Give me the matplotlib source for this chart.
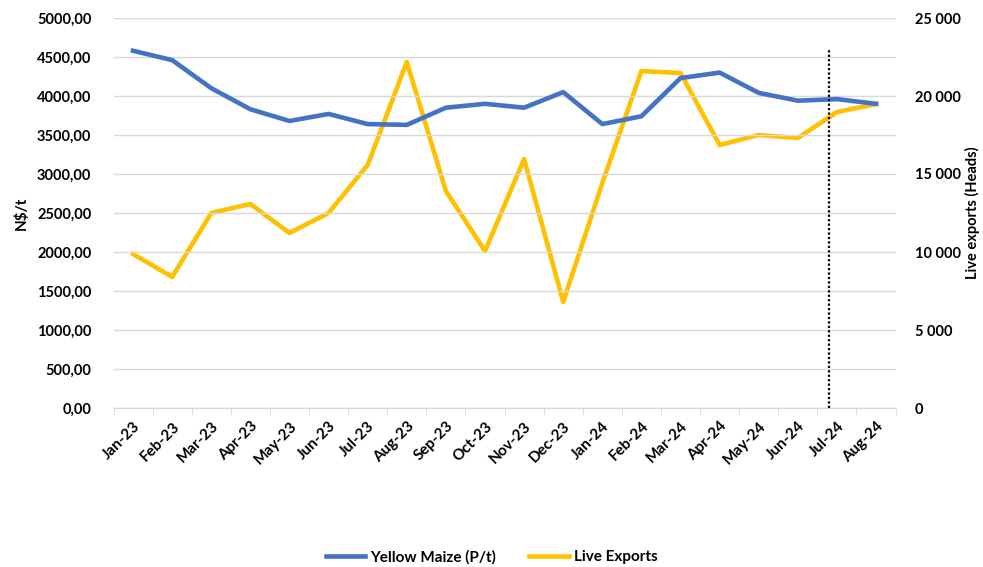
import numpy as np
import matplotlib
matplotlib.use("Agg")
import matplotlib.pyplot as plt
from matplotlib.ticker import FuncFormatter, FixedLocator

# ---- data ----
months = ["Jan-23", "Feb-23", "Mar-23", "Apr-23", "May-23", "Jun-23", "Jul-23",
          "Aug-23", "Sep-23", "Oct-23", "Nov-23", "Dec-23", "Jan-24", "Feb-24",
          "Mar-24", "Apr-24", "May-24", "Jun-24", "Jul-24", "Aug-24"]
maize = [4580, 4460, 4100, 3830, 3680, 3770, 3640, 3630, 3850, 3900,
         3850, 4050, 3640, 3740, 4230, 4300, 4040, 3940, 3960, 3900]
live_exports = [9870, 8400, 12500, 13080, 11220, 12500, 15580, 22180, 13910, 10060,
                15960, 6800, 14420, 21600, 21470, 16860, 17500, 17310, 18970, 19490]
marker_pos = 17.8          # dotted vertical marker, just before Jul-24
marker_top = 4590          # on the left axis

BLUE = "#4472C4"
GOLD = "#FFC000"
FONT = "Lato"

plt.rcParams["font.family"] = [FONT, "DejaVu Sans"]
plt.rcParams["font.weight"] = "bold"

fig = plt.figure(figsize=(9.83, 5.67), dpi=100)
ax = fig.add_axes([113.5 / 983, 1 - 408 / 567, (895.6 - 113.5) / 983, (408 - 18) / 567])
ax2 = ax.twinx()

x = np.arange(len(months))
l1, = ax.plot(x, maize, color=BLUE, lw=3.3, solid_joinstyle="round", label="Yellow Maize (P/t)", zorder=3)
l2, = ax2.plot(x, live_exports, color=GOLD, lw=3.3, solid_joinstyle="round", label="Live Exports", zorder=3)
ax.vlines(marker_pos, 0, marker_top, colors="black", linestyles=(0, (1, 1)), lw=1.6, zorder=4)

ax.set_zorder(ax2.get_zorder() + 1)
ax.patch.set_visible(False)

ax.set_xlim(-0.5, len(months) - 0.5)
ax.set_ylim(0, 5000)
ax2.set_ylim(0, 25000)
ax.set_yticks(np.arange(0, 5001, 500))
ax2.set_yticks(np.arange(0, 25001, 5000))
ax.yaxis.set_major_formatter(FuncFormatter(lambda v, p: f"{v:.2f}".replace(".", ",")))
ax2.yaxis.set_major_formatter(FuncFormatter(lambda v, p: f"{int(v):,}".replace(",", " ")))
ax.grid(axis="y", color="#D9D9D9", lw=1.0, zorder=0)

ax.set_xticks(x)
ax.set_xticklabels(months, rotation=45, ha="right", rotation_mode="anchor")
ax.xaxis.set_minor_locator(FixedLocator(np.arange(-0.5, len(months), 1)))
ax.tick_params(axis="x", which="major", length=0, pad=8, labelsize=11)
ax.tick_params(axis="x", which="minor", length=5, color="#D9D9D9", direction="out")
ax.tick_params(axis="y", length=0, pad=16, labelsize=10.5)
ax2.tick_params(axis="y", length=0, pad=14, labelsize=10.5)

for a in (ax, ax2):
    for s in ("top", "left", "right"):
        a.spines[s].set_visible(False)
    a.spines["bottom"].set_color("#D9D9D9")

ax.set_ylabel("N$/t", fontsize=11, fontweight="bold", labelpad=6)
ax2.set_ylabel("Live exports (Heads)", fontsize=10.5, fontweight="bold", labelpad=3)

fig.legend(handles=[l1, l2], loc="center", bbox_to_anchor=(0.5, 1 - 557 / 567), ncol=2,
           frameon=False, fontsize=11, handlelength=2.6, columnspacing=2.2, handletextpad=0.3)

fig.savefig("out.png", dpi=100)
